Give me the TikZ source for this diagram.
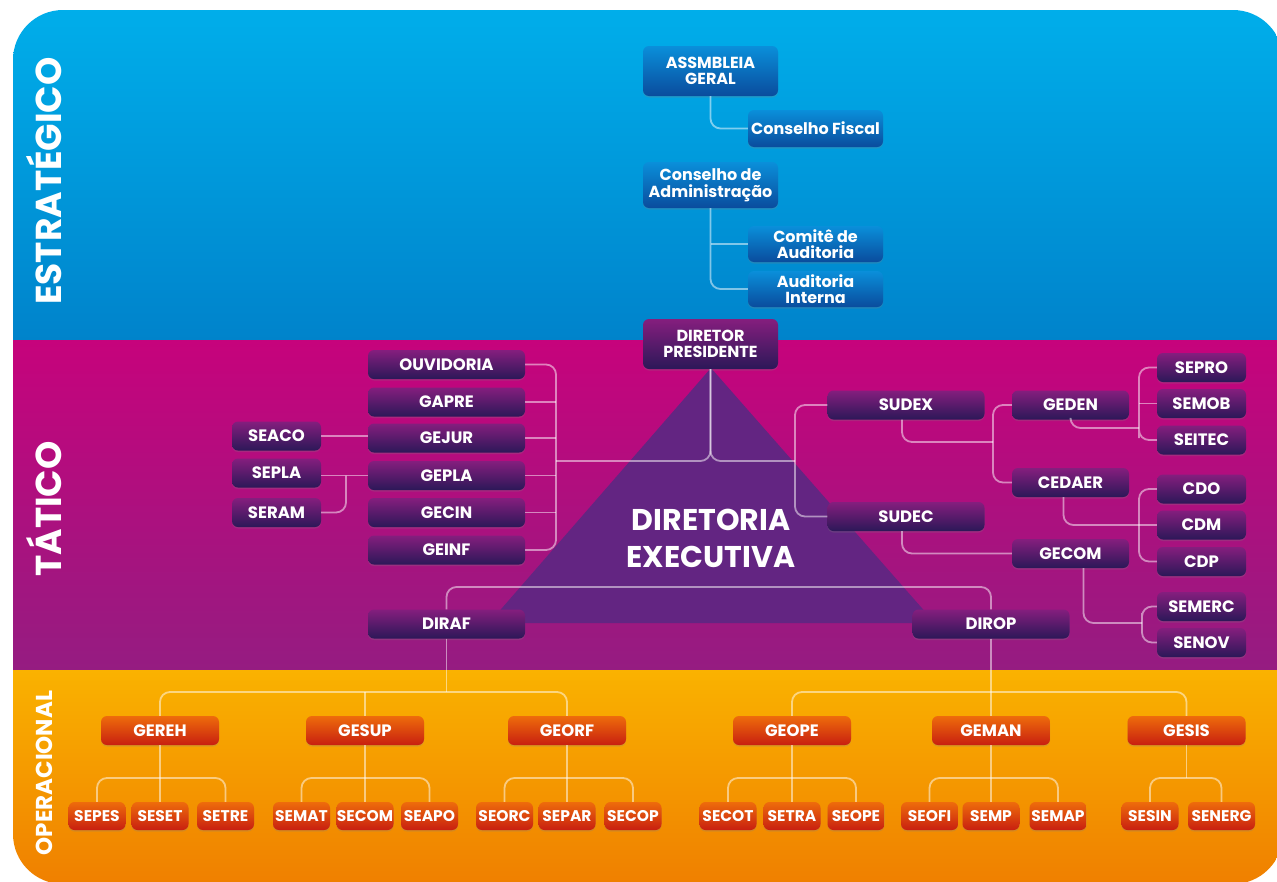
\documentclass[tikz,border=0pt]{standalone}
\usepackage{fontspec}
\setmainfont{Poppins}
\usetikzlibrary{shadows}
\definecolor{bandBT}{HTML}{00AFEB}
\definecolor{bandBB}{HTML}{0083CB}
\definecolor{bandMT}{HTML}{C6037C}
\definecolor{bandMB}{HTML}{951C81}
\definecolor{bandOT}{HTML}{FAB200}
\definecolor{bandOB}{HTML}{EF7E00}
\definecolor{tri}{HTML}{632582}
\definecolor{pT}{HTML}{851E7E}
\definecolor{pB}{HTML}{2C1858}
\definecolor{bT}{HTML}{0A8FDA}
\definecolor{bB}{HTML}{0A4C9D}
\definecolor{oT}{HTML}{EE6C0B}
\definecolor{oB}{HTML}{C81F10}
\tikzset{
 box/.style={rounded corners=6pt, inner sep=0pt, text=white, align=center, font=\bfseries\fontsize{16.5}{17}\selectfont,
   drop shadow={opacity=0.25, shadow xshift=0pt, shadow yshift=-1.5pt}},
 pbox/.style={box, top color=pT, bottom color=pB, minimum width=157pt, minimum height=29pt},
 rbox/.style={pbox, minimum width=89pt},
 gbox/.style={pbox, minimum width=117pt},
 bbox/.style={box, top color=bT, bottom color=bB, minimum width=135pt, font=\bfseries\fontsize{16}{16.5}\selectfont},
 obox/.style={box, top color=oT, bottom color=oB, minimum width=118pt, minimum height=29pt},
 osub/.style={box, top color=oT, bottom color=oB, minimum width=57pt, minimum height=28pt, font=\bfseries\fontsize{15.5}{16}\selectfont},
 conn/.style={draw=white, draw opacity=0.5, line width=1.8pt, rounded corners=10pt},
 bandlabel/.style={text=white, font=\bfseries\fontsize{36}{36}\selectfont, rotate=90},
}
\begin{document}
\begin{tikzpicture}[x=1pt,y=-1pt]
\useasboundingbox (0,0) rectangle (1277,881);
% bands
\begin{scope}
\clip[rounded corners=50pt] (13,10) rectangle (1283,884);
\shade[top color=bandBT, bottom color=bandBB] (0,0) rectangle (1290,340);
\shade[top color=bandMT, bottom color=bandMB] (0,340) rectangle (1290,670);
\shade[top color=bandOT, bottom color=bandOB] (0,670) rectangle (1290,890);
\end{scope}
\node[bandlabel] (lbE) at (44,181) {ESTRATÉGICO};
\node[bandlabel] (lbT) at (44,509) {TÁTICO};
\node[bandlabel, font=\bfseries\fontsize{23}{23}\selectfont] (lbO) at (44,773) {OPERACIONAL};
% triangle
\fill[tri] (711,368) -- (489,623) -- (935,623) -- cycle;
\node[text=white, align=center, font=\bfseries\fontsize{30}{37}\selectfont] (de) at (711,538) {DIRETORIA\\EXECUTIVA};
% strategic
\node[bbox, minimum height=50pt] (ag) at (710.5,71) {ASSMBLEIA\\GERAL};
\node[bbox, minimum height=37pt] (cf) at (815.5,128.5) {Conselho Fiscal};
\node[bbox, minimum height=46pt] (ca) at (710.5,185) {Conselho de\\Administração};
\node[bbox, minimum height=36pt] (cau) at (815.5,244) {Comitê de\\Auditoria};
\node[bbox, minimum height=36pt] (ai) at (815.5,289) {Auditoria\\Interna};
% tactical
\node[pbox, minimum width=135pt, minimum height=50pt, font=\bfseries\fontsize{16}{16.5}\selectfont] (dp) at (710.5,344) {DIRETOR\\PRESIDENTE};
\node[pbox] (ouv) at (446.5,364.5) {OUVIDORIA};
\node[pbox] (gapre) at (446.5,402) {GAPRE};
\node[pbox] (gejur) at (446.5,438) {GEJUR};
\node[pbox] (gepla) at (446.5,475.5) {GEPLA};
\node[pbox] (gecin) at (446.5,512.5) {GECIN};
\node[pbox] (geinf) at (446.5,550) {GEINF};
\node[rbox] (seaco) at (276.5,436) {SEACO};
\node[rbox] (sepla) at (276.5,473) {SEPLA};
\node[rbox] (seram) at (276.5,512.5) {SERAM};
\node[pbox] (diraf) at (446.5,624) {DIRAF};
\node[pbox] (dirop) at (991,624) {DIROP};
\node[pbox] (sudex) at (906,405) {SUDEX};
\node[pbox] (sudec) at (906,516.5) {SUDEC};
\node[gbox] (geden) at (1070.5,405) {GEDEN};
\node[gbox] (cedaer) at (1070.5,482.5) {CEDAER};
\node[gbox] (gecom) at (1070.5,553.5) {GECOM};
\node[rbox] (sepro) at (1201.5,367.5) {SEPRO};
\node[rbox] (semob) at (1201.5,403.5) {SEMOB};
\node[rbox] (seitec) at (1201.5,440) {SEITEC};
\node[rbox] (cdo) at (1201.5,489) {CDO};
\node[rbox] (cdm) at (1201.5,525) {CDM};
\node[rbox] (cdp) at (1201.5,561.5) {CDP};
\node[rbox] (semerc) at (1201.5,606.5) {SEMERC};
\node[rbox] (senov) at (1201.5,642.5) {SENOV};
% operational
\node[obox] (gereh) at (160,730.5) {GEREH};
\node[obox] (gesup) at (365,730.5) {GESUP};
\node[obox] (georf) at (567,730.5) {GEORF};
\node[obox] (geope) at (792,730.5) {GEOPE};
\node[obox] (geman) at (991,730.5) {GEMAN};
\node[obox] (gesis) at (1186.5,730.5) {GESIS};
\node[osub] (sepes) at (97,816) {SEPES};
\node[osub] (seset) at (160,816) {SESET};
\node[osub] (setre) at (225.5,816) {SETRE};
\node[osub] (semat) at (301.5,816) {SEMAT};
\node[osub] (secom) at (365,816) {SECOM};
\node[osub] (seapo) at (429.5,816) {SEAPO};
\node[osub] (seorc) at (504.5,816) {SEORC};
\node[osub] (separ) at (567,816) {SEPAR};
\node[osub] (secop) at (633,816) {SECOP};
\node[osub] (secot) at (728,816) {SECOT};
\node[osub] (setra) at (792,816) {SETRA};
\node[osub] (seope) at (856,816) {SEOPE};
\node[osub] (seofi) at (929.5,816) {SEOFI};
\node[osub] (semp) at (991,816) {SEMP};
\node[osub] (semap) at (1058,816) {SEMAP};
\node[osub] (sesin) at (1150,816) {SESIN};
\node[osub, minimum width=67pt] (senerg) at (1221.5,816) {SENERG};
% connectors strategic
\draw[conn] (ag.south) |- (cf.west);
\draw[conn] (ca.south) |- (ai.west);
\draw[conn] (cau.west) -- (cau.west -| ca.south);
% connectors tactical
\coordinate (lb) at (556,461);
\coordinate (rb) at (795,461);
\draw[conn] (dp.south) |- (lb);
\draw[conn] (dp.south) |- (rb);
\draw[conn] (ouv.east) -| (lb) |- (geinf.east);
\foreach \n in {gapre,gejur,gepla,gecin} {\draw[conn] (\n.east) -- (\n.east -| lb);}
\draw[conn] (seaco.east) -- (seaco.east -| gejur.west);
\coordinate (js) at (346,475.5);
\draw[conn] (sepla.east |- gepla.west) -- (gepla.west);
\draw[conn] (seram.east) -| (js);
\draw[conn] (sudex.west) -| (rb) |- (sudec.west);
\coordinate (jx) at (993,442);
\draw[conn] ([xshift=-4pt]sudex.south) |- (jx);
\draw[conn] (geden.west) -| (jx) |- (cedaer.west);
\coordinate (jg) at (1139,428);
\draw[conn] (geden.south) |- (jg);
\draw[conn] (sepro.west) -| (jg) |- (seitec.west);
\draw[conn] (semob.west) -- (semob.west -| jg);
\coordinate (jc) at (1139,525);
\draw[conn] ([xshift=-7pt]cedaer.south) |- (cdm.west);
\draw[conn] (cdo.west) -| (jc) |- (cdp.west);
\draw[conn] ([xshift=-4pt]sudec.south) |- (gecom.west);
\coordinate (jm) at (1142,623);
\draw[conn] ([xshift=13pt]gecom.south) |- (jm);
\draw[conn] (semerc.west) -| (jm) |- (senov.west);
\coordinate (jd) at (711,587);
\draw[conn] (diraf.north) |- (jd) -| (dirop.north);
% connectors operational
\coordinate (ol) at (446.5,692);
\coordinate (or) at (991,692);
\draw[conn] (diraf.south) -- (ol);
\draw[conn] (gereh.north) |- (ol) -| (georf.north);
\draw[conn] (gesup.north) -- (gesup.north |- ol);
\draw[conn] (dirop.south) -- (geman.north);
\draw[conn] (geope.north) |- (or) -| (gesis.north);
\coordinate (s1) at (160,778);
\coordinate (s2) at (365,778);
\coordinate (s3) at (567,778);
\coordinate (s4) at (792,778);
\coordinate (s5) at (991,778);
\coordinate (s6) at (1186.5,778);
\draw[conn] (sepes.north) |- (s1) -| (setre.north);
\draw[conn] (gereh.south) -- (seset.north);
\draw[conn] (semat.north) |- (s2) -| (seapo.north);
\draw[conn] (gesup.south) -- (secom.north);
\draw[conn] (seorc.north) |- (s3) -| (secop.north);
\draw[conn] (georf.south) -- (separ.north);
\draw[conn] (secot.north) |- (s4) -| (seope.north);
\draw[conn] (geope.south) -- (setra.north);
\draw[conn] (seofi.north) |- (s5) -| (semap.north);
\draw[conn] (geman.south) -- (semp.north);
\draw[conn] (sesin.north) |- (s6) -| (senerg.north);
\draw[conn] (gesis.south) -- (s6);
\end{tikzpicture}
\end{document}
